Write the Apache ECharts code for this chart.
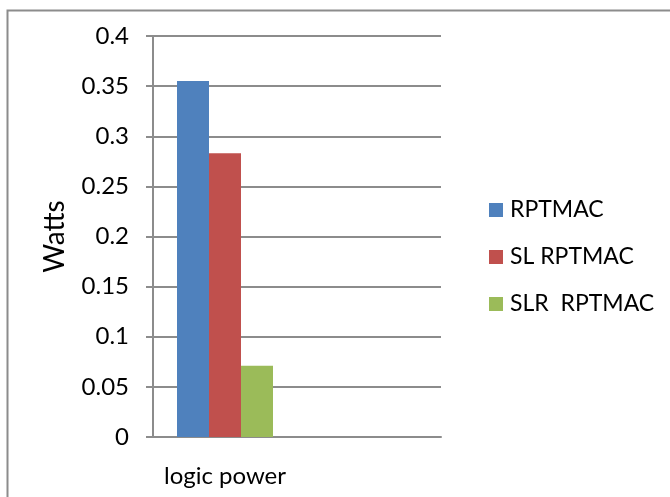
<!DOCTYPE html>
<html>
<head>
<meta charset="utf-8">
<script src="https://cdn.jsdelivr.net/npm/echarts@6/dist/echarts.min.js"></script>
<style>html,body{margin:0;padding:0;background:#fff;}#c{width:670px;height:497px;}</style>
</head>
<body>
<div id="c"></div>
<script>
const categories = ['logic power', ''];
const seriesNames = ['RPTMAC', 'SL RPTMAC', 'SLR  RPTMAC'];
const rptmac = [0.355, null];
const slRptmac = [0.283, null];
const slrRptmac = [0.071, null];
const yTicks = [0, 0.05, 0.1, 0.15, 0.2, 0.25, 0.3, 0.35, 0.4];
const colors = ['#4F81BD', '#C0504D', '#9BBB59'];

const FONT = 'Lato';
const chart = echarts.init(document.getElementById('c'), null, {renderer: 'canvas'});
const gridColor = '#8c8c8c';
chart.setOption({
  animation: false,
  backgroundColor: '#fff',
  textStyle: {fontFamily: FONT, color: '#000'},
  graphic: [{
    type: 'rect', left: 5, top: 8, silent: true,
    shape: {x: 0, y: 0, width: 800, height: 600},
    style: {fill: 'none', stroke: gridColor, lineWidth: 2}
  }],
  grid: {left: 153, right: 229, top: 36, bottom: 60, containLabel: false},
  legend: {
    orient: 'vertical', left: 484, top: 193,
    itemWidth: 14, itemHeight: 14, itemGap: 23,
    icon: 'rect',
    textStyle: {fontFamily: FONT, fontSize: 23, color: '#000', lineHeight: 24, padding: [0, 0, 0, 2]},
    data: seriesNames
  },
  xAxis: {
    type: 'category', data: categories,
    axisLine: {lineStyle: {color: gridColor, width: 2}},
    axisTick: {show: false},
    axisLabel: {fontFamily: FONT, fontSize: 24, color: '#000', margin: 27},
    splitLine: {show: false}
  },
  yAxis: {
    type: 'value', min: yTicks[0], max: yTicks[yTicks.length - 1], interval: 0.05,
    name: 'Watts', nameLocation: 'middle', nameGap: 84, nameRotate: 90,
    nameTextStyle: {fontFamily: FONT, fontSize: 28, color: '#000', padding: [0, 0, 0, 0]},
    axisLine: {show: true, lineStyle: {color: gridColor, width: 2}},
    axisTick: {show: true, length: 7, lineStyle: {color: gridColor, width: 2}},
    axisLabel: {fontFamily: FONT, fontSize: 24, color: '#000', margin: 24,
      formatter: v => String(+v.toFixed(2))},
    splitLine: {show: true, lineStyle: {color: gridColor, width: 2}}
  },
  series: [
    {name: seriesNames[0], type: 'bar', data: rptmac, barWidth: 32, barGap: '0%', itemStyle: {color: colors[0]}},
    {name: seriesNames[1], type: 'bar', data: slRptmac, barWidth: 32, barGap: '0%', itemStyle: {color: colors[1]}},
    {name: seriesNames[2], type: 'bar', data: slrRptmac, barWidth: 32, barGap: '0%', itemStyle: {color: colors[2]}}
  ]
});
</script>
</body>
</html>
